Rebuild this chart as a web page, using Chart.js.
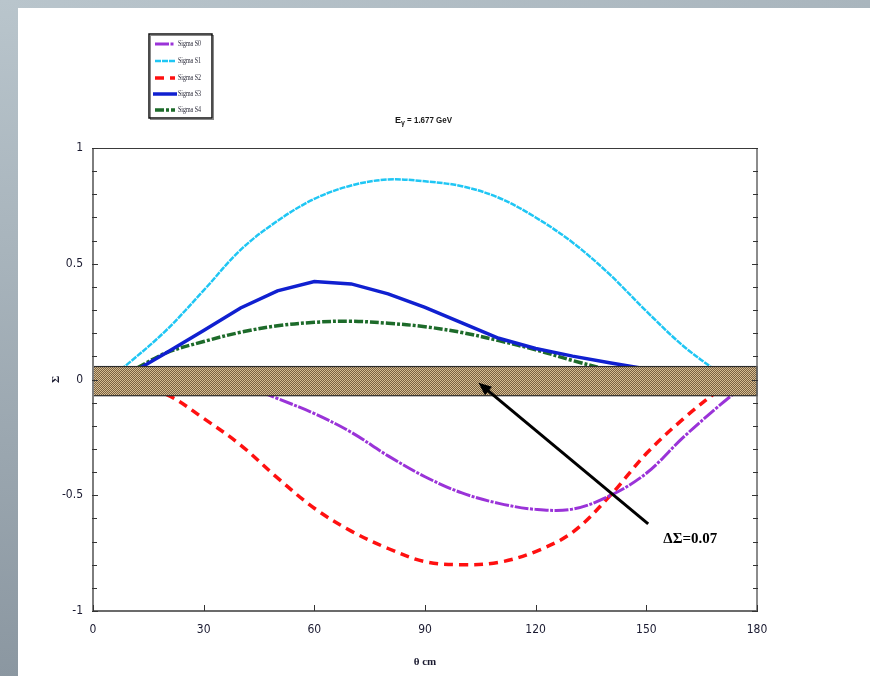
<!DOCTYPE html>
<html>
<head>
<meta charset="utf-8">
<script src="https://cdn.jsdelivr.net/npm/chart.js@4.4.1/dist/chart.umd.min.js"></script>
<style>
    html, body { margin: 0; padding: 0; background: #fff; }
    #wrap { position: relative; width: 870px; height: 676px; overflow: hidden; background: #fff; }
    #edgeTop { position: absolute; left: 0; top: 0; width: 870px; height: 8px; background: linear-gradient(to right, #b9c5cc, #a9b5bd); }
    #edgeLeft { position: absolute; left: 0; top: 0; width: 18px; height: 676px; background: linear-gradient(to bottom, #b9c5cc, #8b97a1); }
    canvas { position: absolute; left: 0; top: 0; }
</style>
</head>
<body>
<div id="wrap">
    <div id="edgeTop"></div>
    <div id="edgeLeft"></div>
    <canvas id="sigmaChart" width="870" height="676"></canvas>
</div>
<script>
// theta (deg) and beam asymmetry values
var theta   = [0, 10, 20, 30, 40, 50, 60, 70, 80, 90, 100, 110, 120, 130, 140, 150, 160, 170, 180];
var sigmaS0 = [null, null, null, 0.02, -0.02, -0.082, -0.147, -0.228, -0.33, -0.42, -0.49, -0.535, -0.561, -0.56, -0.503, -0.405, -0.25, -0.11, 0.02];
var sigmaS1 = [-0.05, 0.075, 0.215, 0.385, 0.56, 0.685, 0.78, 0.838, 0.864, 0.856, 0.835, 0.785, 0.70, 0.592, 0.455, 0.295, 0.145, 0.025, null];
var sigmaS2 = [0.0, -0.02, -0.065, -0.168, -0.283, -0.425, -0.556, -0.655, -0.73, -0.787, -0.80, -0.79, -0.743, -0.66, -0.505, -0.32, -0.17, -0.04, null];
var sigmaS3 = [-0.04, 0.024, 0.117, 0.212, 0.309, 0.383, 0.423, 0.413, 0.37, 0.312, 0.245, 0.178, 0.134, 0.101, 0.072, 0.045, 0.02, null, null];
var sigmaS4 = [-0.03, 0.035, 0.116, 0.164, 0.204, 0.232, 0.247, 0.252, 0.243, 0.228, 0.203, 0.168, 0.128, 0.082, 0.04, 0.0, -0.03, null, null];
var seriesNames = ['Sigma S0', 'Sigma S1', 'Sigma S2', 'Sigma S3', 'Sigma S4'];

var xTicks = [0, 30, 60, 90, 120, 150, 180];
var yTicks = [-1, -0.5, 0, 0.5, 1];

// uncertainty band and its annotation
var bandLimits = [-0.07, 0.056];
var arrowTail = [150.5, -0.624];
var arrowHead = [104.5, -0.014];
var deltaText = 'ΔΣ=0.07';
var deltaAt = [154.6, -0.689];

function toPoints(vals) {
    return theta.map(function (t, i) { return { x: t, y: vals[i] }; });
}

function bandPattern(ctx) {
    var c = document.createElement('canvas');
    c.width = 2; c.height = 2;
    var p = c.getContext('2d');
    p.fillStyle = '#d6bd92'; p.fillRect(0, 0, 2, 2);
    p.fillStyle = '#7a6142'; p.fillRect(1, 0, 1, 1); p.fillRect(0, 1, 1, 1);
    return ctx.createPattern(c, 'repeat');
}

var bandPlugin = {
    id: 'band',
    afterDatasetsDraw: function (chart) {
        var ctx = chart.ctx, xs = chart.scales.x, ys = chart.scales.y;
        var x0 = xs.getPixelForValue(0), x1 = xs.getPixelForValue(180);
        var yT = ys.getPixelForValue(bandLimits[1]), yB = ys.getPixelForValue(bandLimits[0]);
        ctx.save();
        ctx.fillStyle = bandPattern(ctx);
        ctx.fillRect(x0, yT, x1 - x0, yB - yT);
        ctx.strokeStyle = '#2b2b2b';
        ctx.lineWidth = 1.2;
        ctx.strokeRect(x0, yT, x1 - x0, yB - yT);

        // arrow
        var ax = xs.getPixelForValue(arrowTail[0]), ay = ys.getPixelForValue(arrowTail[1]);
        var hx = xs.getPixelForValue(arrowHead[0]), hy = ys.getPixelForValue(arrowHead[1]);
        var ang = Math.atan2(hy - ay, hx - ax);
        ctx.strokeStyle = '#000';
        ctx.lineWidth = 3;
        ctx.beginPath();
        ctx.moveTo(ax, ay);
        ctx.lineTo(hx - 8 * Math.cos(ang), hy - 8 * Math.sin(ang));
        ctx.stroke();
        ctx.fillStyle = '#000';
        ctx.beginPath();
        ctx.moveTo(hx, hy);
        ctx.lineTo(hx - 13 * Math.cos(ang) + 5.5 * Math.sin(ang), hy - 13 * Math.sin(ang) - 5.5 * Math.cos(ang));
        ctx.lineTo(hx - 13 * Math.cos(ang) - 5.5 * Math.sin(ang), hy - 13 * Math.sin(ang) + 5.5 * Math.cos(ang));
        ctx.closePath();
        ctx.fill();

        ctx.font = 'bold 15px "Liberation Serif", "Times New Roman", serif';
        ctx.textAlign = 'left';
        ctx.textBaseline = 'middle';
        ctx.fillText(deltaText, xs.getPixelForValue(deltaAt[0]), ys.getPixelForValue(deltaAt[1]));
        ctx.restore();
    }
};

var framePlugin = {
    id: 'frame',
    afterDraw: function (chart) {
        var ctx = chart.ctx, a = chart.chartArea, xs = chart.scales.x, ys = chart.scales.y;
        ctx.save();
        // borders
        ctx.strokeStyle = '#3a3a3a'; ctx.lineWidth = 1;
        ctx.beginPath(); ctx.moveTo(a.left, a.top + 0.5); ctx.lineTo(a.right, a.top + 0.5); ctx.stroke();
        ctx.lineWidth = 1.5;
        ctx.beginPath(); ctx.moveTo(a.left, a.bottom); ctx.lineTo(a.right, a.bottom); ctx.stroke();
        ctx.strokeStyle = '#666';
        ctx.beginPath(); ctx.moveTo(a.right, a.top); ctx.lineTo(a.right, a.bottom); ctx.stroke();
        ctx.strokeStyle = '#7d7d7d'; ctx.lineWidth = 2;
        ctx.beginPath(); ctx.moveTo(a.left, a.top); ctx.lineTo(a.left, a.bottom); ctx.stroke();

        // tick marks
        ctx.strokeStyle = '#333'; ctx.lineWidth = 1;
        for (var v = -10; v <= 10; v++) {
            var y = Math.round(ys.getPixelForValue(v / 10)) + 0.5;
            var len = (v % 5 === 0) ? 5 : 4;
            ctx.beginPath(); ctx.moveTo(a.left - 1, y); ctx.lineTo(a.left + len, y); ctx.stroke();
            ctx.beginPath(); ctx.moveTo(a.right - len, y); ctx.lineTo(a.right + 1, y); ctx.stroke();
        }
        xTicks.forEach(function (t) {
            var x = Math.round(xs.getPixelForValue(t)) + 0.5;
            ctx.beginPath(); ctx.moveTo(x, a.bottom); ctx.lineTo(x, a.bottom - 6); ctx.stroke();
        });

        // title with subscript gamma
        ctx.fillStyle = '#1a1a1a';
        ctx.textBaseline = 'middle';
        ctx.textAlign = 'left';
        ctx.font = 'bold 9px "Liberation Sans", Arial, sans-serif';
        var tx = 395, ty = 121;
        ctx.fillText('E', tx, ty);
        tx += ctx.measureText('E').width;
        ctx.font = 'bold 7px "Liberation Sans", Arial, sans-serif';
        ctx.fillText('γ', tx, ty + 2);
        tx += ctx.measureText('γ').width;
        ctx.font = 'bold 9px "Liberation Sans", Arial, sans-serif';
        ctx.fillText(' = 1.677 GeV', tx, ty, 452 - tx);

        // legend
        var bx = 149, by = 34, bw = 63, bh = 84;
        ctx.fillStyle = '#fff';
        ctx.fillRect(bx, by, bw, bh);
        ctx.strokeStyle = '#888'; ctx.lineWidth = 1;
        ctx.strokeRect(bx + 1.5, by + 1.5, bw, bh);
        ctx.strokeStyle = '#111'; ctx.lineWidth = 1.5;
        ctx.strokeRect(bx, by, bw, bh);
        var rows = [44, 61, 78, 94, 110];
        chart.data.datasets.forEach(function (ds, i) {
            var ry = rows[i];
            ctx.strokeStyle = ds.borderColor;
            ctx.lineWidth = ds.borderWidth;
            ctx.setLineDash(ds.borderDash || []);
            ctx.beginPath();
            ctx.moveTo(i === 3 ? 153 : 155, ry);
            ctx.lineTo(i === 3 ? 177 : 175, ry);
            ctx.stroke();
            ctx.setLineDash([]);
            ctx.fillStyle = '#1c1c2c';
            ctx.font = '8px "Liberation Serif", "Times New Roman", serif';
            ctx.textAlign = 'left';
            ctx.textBaseline = 'middle';
            ctx.fillText(ds.label, 178, ry, 23);
        });
        ctx.restore();
    }
};

var tickFont = { family: '"Liberation Sans Narrow", "DejaVu Sans Condensed", "Arial Narrow", sans-serif', size: 12 };
var labelColor = '#1a1a30';

var ctx = document.getElementById('sigmaChart').getContext('2d');
var sigmaChart = new Chart(ctx, {
    type: 'line',
    data: {
        datasets: [
            { label: seriesNames[0], data: toPoints(sigmaS0), borderColor: '#9a33d8', borderWidth: 3, borderDash: [14, 1.5, 3, 1.5], tension: 0.35 },
            { label: seriesNames[1], data: toPoints(sigmaS1), borderColor: '#1fc6f4', borderWidth: 2.5, borderDash: [6, 1], tension: 0.35 },
            { label: seriesNames[2], data: toPoints(sigmaS2), borderColor: '#ff1010', borderWidth: 3.5, borderDash: [9, 6], tension: 0.35 },
            { label: seriesNames[3], data: toPoints(sigmaS3), borderColor: '#1020d0', borderWidth: 3.5, tension: 0 },
            { label: seriesNames[4], data: toPoints(sigmaS4), borderColor: '#1d6b2a', borderWidth: 3.5, borderDash: [9, 2, 3, 2], tension: 0.35 }
        ]
    },
    options: {
        responsive: false,
        animation: false,
        devicePixelRatio: 1,
        spanGaps: false,
        elements: { point: { radius: 0 }, line: { fill: false } },
        layout: { padding: { left: 0, right: 113, top: 148, bottom: 0 } },
        plugins: { legend: { display: false }, tooltip: { enabled: false }, title: { display: false } },
        scales: {
            x: {
                type: 'linear',
                position: 'bottom',
                min: 0,
                max: 180,
                afterFit: function (s) { s.height = 65; },
                afterBuildTicks: function (s) { s.ticks = xTicks.map(function (v) { return { value: v }; }); },
                ticks: { padding: 12, color: labelColor, font: tickFont, maxRotation: 0, autoSkip: false },
                grid: { display: false, drawTicks: false },
                border: { display: false },
                title: { display: true, text: 'θ cm', color: labelColor, font: { family: '"Liberation Serif", serif', size: 11, weight: 'bold' }, padding: { top: 0, bottom: 7 } }
            },
            y: {
                min: -1,
                max: 1,
                afterFit: function (s) { s.width = 93; },
                afterBuildTicks: function (s) { s.ticks = yTicks.map(function (v) { return { value: v }; }); },
                ticks: { padding: 10, color: labelColor, font: tickFont, autoSkip: false, callback: function (v) { return String(v); } },
                grid: { display: false, drawTicks: false },
                border: { display: false },
                title: { display: true, text: 'Σ', color: labelColor, font: { family: '"Liberation Serif", serif', size: 11, weight: 'bold' }, padding: { top: 50, bottom: 0 } }
            }
        }
    },
    plugins: [bandPlugin, framePlugin]
});
</script>
</body>
</html>
